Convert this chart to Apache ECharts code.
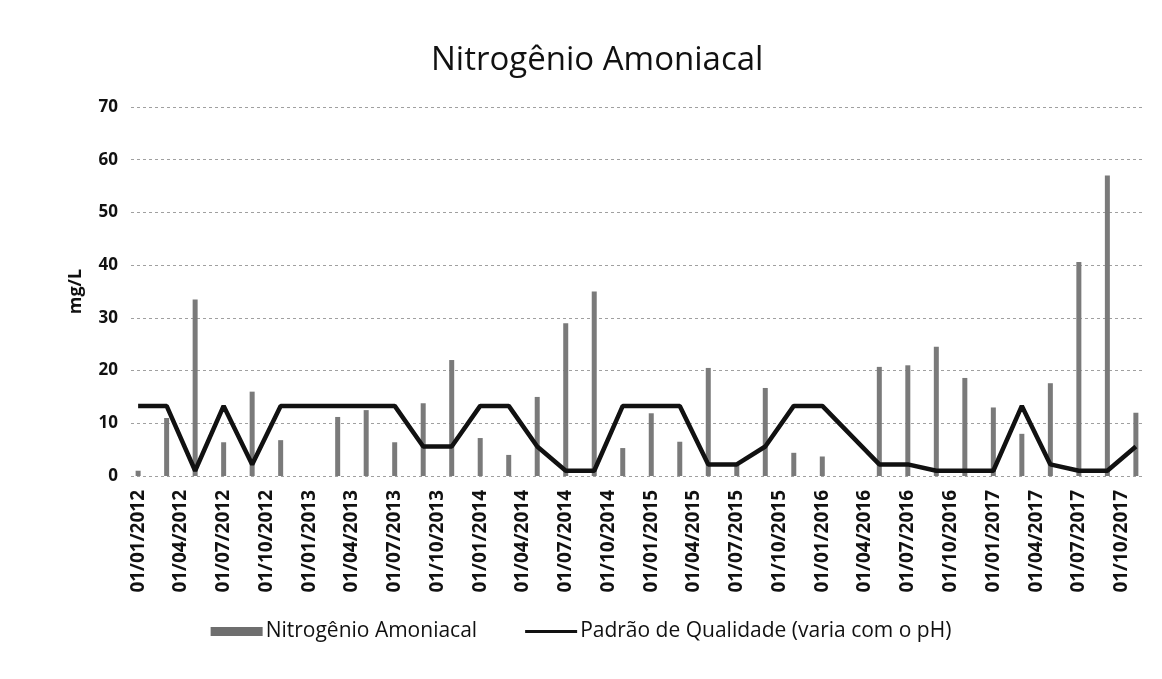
<!DOCTYPE html>
<html>
<head>
<meta charset="utf-8">
<script src="https://cdn.jsdelivr.net/npm/echarts@6/dist/echarts.min.js"></script>
<style>
html,body{margin:0;padding:0;background:#fff;}
#chart{width:1162px;height:679px;}
</style>
</head>
<body>
<div id="chart"></div>
<script>
// Sample dates (bimonthly measurements)
const sampleDates = [
  '01/01/2012','01/03/2012','01/05/2012','01/07/2012','01/09/2012','01/11/2012',
  '01/01/2013','01/03/2013','01/05/2013','01/07/2013','01/09/2013','01/11/2013',
  '01/01/2014','01/03/2014','01/05/2014','01/07/2014','01/09/2014','01/11/2014',
  '01/01/2015','01/03/2015','01/05/2015','01/07/2015','01/09/2015','01/11/2015',
  '01/01/2016','01/03/2016','01/05/2016','01/07/2016','01/09/2016','01/11/2016',
  '01/01/2017','01/03/2017','01/05/2017','01/07/2017','01/09/2017','01/11/2017'
];
// Nitrogênio Amoniacal (mg/L)
const nitrogenio = [
  1.0, 11, 33.5, 6.4, 16, 6.8,
  null, 11.2, 12.5, 6.4, 13.8, 22,
  7.2, 4, 15, 29, 35, 5.3,
  11.9, 6.5, 20.5, 2.5, 16.7, 4.4,
  3.7, null, 20.7, 21, 24.5, 18.6,
  13, 8, 17.6, 40.6, 57, 12
];
// Padrão de Qualidade (varia com o pH)
const padrao = [
  13.3, 13.3, 1.0, 13.3, 2.2, 13.3,
  13.3, 13.3, 13.3, 13.3, 5.6, 5.6,
  13.3, 13.3, 5.6, 1.0, 1.0, 13.3,
  13.3, 13.3, 2.2, 2.2, 5.6, 13.3,
  13.3, null, 2.2, 2.2, 1.0, 1.0,
  1.0, 13.3, 2.2, 1.0, 1.0, 5.6
];
const yTicks = [0, 10, 20, 30, 40, 50, 60, 70];
const seriesNames = ['Nitrogênio Amoniacal', 'Padrão de Qualidade (varia com o pH)'];
const titleText = 'Nitrogênio Amoniacal';
const yName = 'mg/L';

// Build a monthly date axis covering the samples
function parse(d){ const p = d.split('/'); return {m: +p[1], y: +p[2]}; }
const first = parse(sampleDates[0]);
const last = parse(sampleDates[sampleDates.length - 1]);
const months = [];
for (let y = first.y, m = first.m; y < last.y || (y === last.y && m <= last.m); ) {
  months.push('01/' + String(m).padStart(2, '0') + '/' + y);
  m++; if (m > 12) { m = 1; y++; }
}
const barData = months.map(() => null);
const lineData = months.map(() => null);
sampleDates.forEach((d, i) => {
  const k = months.indexOf(d);
  barData[k] = nitrogenio[i];
  lineData[k] = padrao[i];
});

const chart = echarts.init(document.getElementById('chart'), null, {renderer: 'canvas'});
const fontFam = '"Open Sans", "Noto Sans", "Liberation Sans", sans-serif';
chart.setOption({
  backgroundColor: '#ffffff',
  animation: false,
  title: {
    text: titleText,
    left: 426,
    top: 39,
    textStyle: {fontFamily: fontFam, fontSize: 33, fontWeight: 'normal', color: '#111'}
  },
  legend: {
    bottom: 32,
    left: 'center',
    itemGap: 48,
    itemWidth: 52,
    itemHeight: 9,
    textStyle: {fontFamily: fontFam, fontSize: 21, color: '#111', padding: [0, 0, 0, -2]},
    data: [
      {name: seriesNames[0], icon: 'rect', itemStyle: {color: '#6e6e6e'}},
      {name: seriesNames[1], icon: 'path://M0,0 L52,0 L52,3 L0,3 Z', itemStyle: {color: '#111'}}
    ]
  },
  grid: {left: 131, right: 19, top: 107, bottom: 203, containLabel: false},
  xAxis: {
    type: 'category',
    data: months,
    boundaryGap: true,
    axisLine: {show: false},
    axisTick: {show: false},
    axisLabel: {
      interval: 2,
      rotate: 90,
      margin: 14,
      fontFamily: fontFam,
      fontSize: 19,
      fontWeight: 'bold',
      color: '#111'
    },
    splitLine: {show: false}
  },
  yAxis: {
    type: 'value',
    min: yTicks[0],
    max: yTicks[yTicks.length - 1],
    interval: 10,
    name: yName,
    nameLocation: 'middle',
    nameGap: 46,
    nameRotate: 90,
    nameTextStyle: {fontFamily: fontFam, fontSize: 18, fontWeight: 'bold', color: '#111'},
    axisLine: {show: false},
    axisTick: {show: false},
    axisLabel: {fontFamily: fontFam, fontSize: 17, fontWeight: 'bold', color: '#111', margin: 13},
    splitLine: {show: true, lineStyle: {color: '#a0a0a0', type: [3, 3], width: 1}}
  },
  series: [
    {
      name: seriesNames[0],
      type: 'bar',
      data: barData,
      barWidth: 5,
      itemStyle: {color: '#7a7a7a'}
    },
    {
      name: seriesNames[1],
      type: 'line',
      data: lineData,
      connectNulls: true,
      symbol: 'none',
      lineStyle: {color: '#111', width: 4.5},
      itemStyle: {color: '#111'}
    }
  ]
});
</script>
</body>
</html>
